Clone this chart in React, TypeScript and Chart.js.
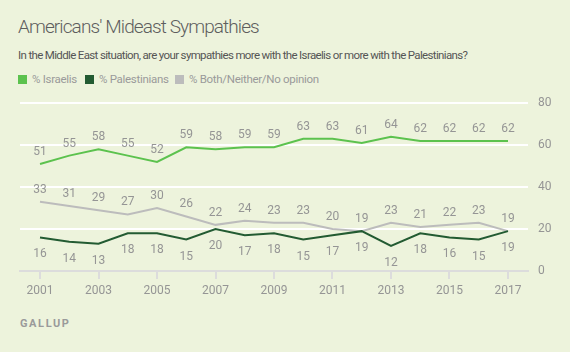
import React, { useEffect, useRef } from "react";
import { Chart, registerables } from "chart.js";

Chart.register(...registerables);

const years = [2001, 2002, 2003, 2004, 2005, 2006, 2007, 2008, 2009, 2010, 2011, 2012, 2013, 2014, 2015, 2016, 2017];
const israelis = [51, 55, 58, 55, 52, 59, 58, 59, 59, 63, 63, 61, 64, 62, 62, 62, 62];
const palestinians = [16, 14, 13, 18, 18, 15, 20, 17, 18, 15, 17, 19, 12, 18, 16, 15, 19];
const bothNeither = [33, 31, 29, 27, 30, 26, 22, 24, 23, 23, 20, 19, 23, 21, 22, 23, 19];
const xTickYears = [2001, 2003, 2005, 2007, 2009, 2011, 2013, 2015, 2017];
const yTicks = [0, 20, 40, 60, 80];

const BG = "#edf3dc";
const C_ISR = "#5cc24e";
const C_PAL = "#235b32";
const C_BOTH = "#bcbcbc";
const LABEL_COLOR = "#959595";
const FONT = "Roboto, 'Liberation Sans', sans-serif";

const labelPlugin = {
  id: "pointLabels",
  afterDatasetsDraw(chart: any) {
    const ctx = chart.ctx;
    ctx.save();
    ctx.font = `12px ${FONT}`;
    ctx.fillStyle = LABEL_COLOR;
    ctx.textAlign = "center";
    ctx.textBaseline = "middle";
    chart.data.datasets.forEach((ds: any, i: number) => {
      const meta = chart.getDatasetMeta(i);
      const off = ds.labelOffset as number;
      meta.data.forEach((pt: any, j: number) => {
        const v = ds.data[j].y;
        ctx.fillText(String(v), pt.x, pt.y + off);
      });
    });
    ctx.restore();
  },
};

export default function App() {
  const ref = useRef<HTMLCanvasElement>(null);
  useEffect(() => {
    document.body.style.margin = "0";
    const toPts = (arr: number[]) => arr.map((v, i) => ({ x: years[i], y: v }));
    const chart = new Chart(ref.current!, {
      type: "line",
      data: {
        datasets: [
          { label: "% Israelis", data: toPts(israelis), borderColor: C_ISR, borderWidth: 2, pointRadius: 0, labelOffset: -12 } as any,
          { label: "% Palestinians", data: toPts(palestinians), borderColor: C_PAL, borderWidth: 2, pointRadius: 0, labelOffset: 17 } as any,
          { label: "% Both/Neither/No opinion", data: toPts(bothNeither), borderColor: C_BOTH, borderWidth: 2, pointRadius: 0, labelOffset: -12 } as any,
        ],
      },
      options: {
        animation: false,
        responsive: false,
        maintainAspectRatio: false,
        layout: { padding: { left: 20, top: 10, right: 0, bottom: 0 } },
        plugins: { legend: { display: false }, tooltip: { enabled: false }, title: { display: false } },
        elements: { line: { tension: 0 } },
        scales: {
          x: {
            type: "linear",
            min: 2000.316,
            max: 2017.684,
            afterBuildTicks: (axis: any) => {
              axis.ticks = xTickYears.map((v) => ({ value: v }));
            },
            afterFit: (axis: any) => {
              axis.height = 35;
            },
            border: { display: true, color: "#dcdcdc", width: 2 },
            grid: { display: true, drawOnChartArea: false, drawTicks: true, tickLength: 8, color: "#dcdcdc", lineWidth: 2 },
            ticks: {
              color: LABEL_COLOR,
              font: { family: FONT, size: 12 },
              padding: 5,
              maxRotation: 0,
              autoSkip: false,
              callback: (v: any) => String(v),
            },
          },
          y: {
            position: "right",
            min: 0,
            max: 80,
            afterBuildTicks: (axis: any) => {
              axis.ticks = yTicks.map((v) => ({ value: v }));
            },
            afterFit: (axis: any) => {
              axis.width = 42;
            },
            border: { display: false },
            grid: {
              drawTicks: false,
              lineWidth: 2,
              color: (c: any) => (c.tick && c.tick.value === 0 ? "rgba(0,0,0,0)" : "#ffffff"),
            },
            ticks: {
              color: LABEL_COLOR,
              font: { family: FONT, size: 12 },
              padding: 10,
            },
          },
        },
      } as any,
      plugins: [labelPlugin],
    });
    return () => chart.destroy();
  }, []);

  const legendItems = [
    { label: "% Israelis", color: C_ISR, x: 18 },
    { label: "% Palestinians", color: C_PAL, x: 85 },
    { label: "% Both/Neither/No opinion", color: C_BOTH, x: 175 },
  ];

  return (
    <div style={{ position: "relative", width: 570, height: 352, background: BG, fontFamily: FONT, overflow: "hidden" }}>
      <div style={{ position: "absolute", left: 18, top: 15, fontSize: 19, fontWeight: 300, letterSpacing: -0.9, color: "#5e5e5e", whiteSpace: "nowrap" }}>
        Americans' Mideast Sympathies
      </div>
      <div style={{ position: "absolute", left: 18, top: 48, fontSize: 11.5, letterSpacing: -0.65, color: "#555", whiteSpace: "nowrap" }}>
        In the Middle East situation, are your sympathies more with the Israelis or more with the Palestinians?
      </div>
      {legendItems.map((it, i) => (
        <div key={i} style={{ position: "absolute", left: it.x, top: 72, height: 14, display: "flex", alignItems: "center", fontSize: 11.5, letterSpacing: -0.3, color: "#9a9a9a", whiteSpace: "nowrap" }}>
          <span style={{ width: 9, height: 9, background: it.color, display: "inline-block", marginRight: 5 }} />
          {it.label}
        </div>
      ))}
      <canvas ref={ref} width={570} height={220} style={{ position: "absolute", left: 0, top: 86, width: 570, height: 220 }} />
      <div style={{ position: "absolute", left: 20, top: 317, fontSize: 11, fontWeight: 700, letterSpacing: 1.6, color: "#9a9a9a" }}>
        GALLUP
      </div>
    </div>
  );
}
